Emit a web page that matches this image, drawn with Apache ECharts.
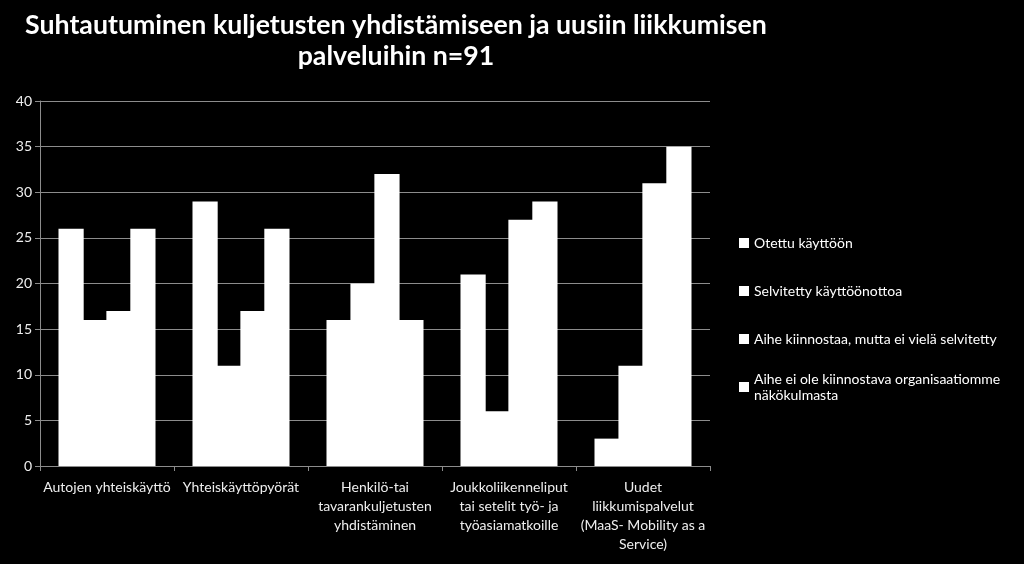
<!DOCTYPE html>
<html>
<head>
<meta charset="utf-8">
<script src="https://cdn.jsdelivr.net/npm/echarts@6/dist/echarts.min.js"></script>
<style>
html,body{margin:0;padding:0;background:#000;}
#chart{width:1024px;height:564px;}
</style>
</head>
<body>
<div id="chart"></div>
<script>
var titleText = 'Suhtautuminen kuljetusten yhdistämiseen ja uusiin liikkumisen\npalveluihin n=91';
var categories = [
  'Autojen yhteiskäyttö',
  'Yhteiskäyttöpyörät',
  'Henkilö-tai\ntavarankuljetusten\nyhdistäminen',
  'Joukkoliikenneliput\ntai setelit työ- ja\ntyöasiamatkoille',
  'Uudet\nliikkumispalvelut\n(MaaS- Mobility as a\nService)'
];
var seriesNames = [
  'Otettu käyttöön',
  'Selvitetty käyttöönottoa',
  'Aihe kiinnostaa, mutta ei vielä selvitetty',
  'Aihe ei ole kiinnostava organisaatiomme näkökulmasta'
];
var otettu = [26, 29, 16, 21, 3];
var selvitetty = [16, 11, 20, 6, 11];
var kiinnostaa = [17, 17, 32, 27, 31];
var eiKiinnosta = [26, 26, 16, 29, 35];
var yTicks = {min: 0, max: 40, interval: 5};

var seriesData = [otettu, selvitetty, kiinnostaa, eiKiinnosta];
var font = 'Lato, "Open Sans", sans-serif';
var legendTops = [230, 278, 326, 358];

var chart = echarts.init(document.getElementById('chart'), null, {renderer: 'canvas'});
var legends = seriesNames.map(function (n, i) {
  return {
    data: [n],
    left: 734,
    top: legendTops[i],
    orient: 'vertical',
    itemWidth: 10,
    itemHeight: 10,
    itemGap: 0,
    icon: 'rect',
    selectedMode: false,
    formatter: function (name) {
      return name === seriesNames[3] ? 'Aihe ei ole kiinnostava organisaatiomme\nnäkökulmasta' : name;
    },
    textStyle: {
      color: '#ffffff', fontSize: 14, fontFamily: font, lineHeight: 16,
      padding: i === 3 ? [16, 0, 0, 0] : 0
    }
  };
});

chart.setOption({
  backgroundColor: '#000000',
  animation: false,
  title: {
    text: titleText,
    left: 391,
    top: 5,
    textAlign: 'center',
    textStyle: {color: '#ffffff', fontSize: 26.7, fontWeight: 'bold', fontFamily: font, lineHeight: 31}
  },
  legend: legends,
  grid: {left: 40, right: 314, top: 101, bottom: 98, containLabel: false},
  xAxis: {
    type: 'category',
    data: categories,
    axisLine: {lineStyle: {color: '#8c8c8c', width: 1}},
    axisTick: {show: true, length: 5, lineStyle: {color: '#8c8c8c'}},
    axisLabel: {color: '#eeeeee', fontSize: 14, fontFamily: font, lineHeight: 19, margin: 12, interval: 0}
  },
  yAxis: {
    type: 'value',
    min: yTicks.min, max: yTicks.max, interval: yTicks.interval,
    axisLine: {show: true, lineStyle: {color: '#8c8c8c'}},
    axisTick: {show: true, length: 5, lineStyle: {color: '#8c8c8c'}},
    splitLine: {lineStyle: {color: '#8c8c8c', width: 1}},
    axisLabel: {color: '#eeeeee', fontSize: 14, fontFamily: font, margin: 8}
  },
  series: seriesNames.map(function (n, i) {
    return {
      name: n,
      type: 'bar',
      data: seriesData[i],
      barGap: '-5%',
      barCategoryGap: '27.6%',
      itemStyle: {color: '#ffffff', borderWidth: 0}
    };
  })
});
</script>
</body>
</html>
